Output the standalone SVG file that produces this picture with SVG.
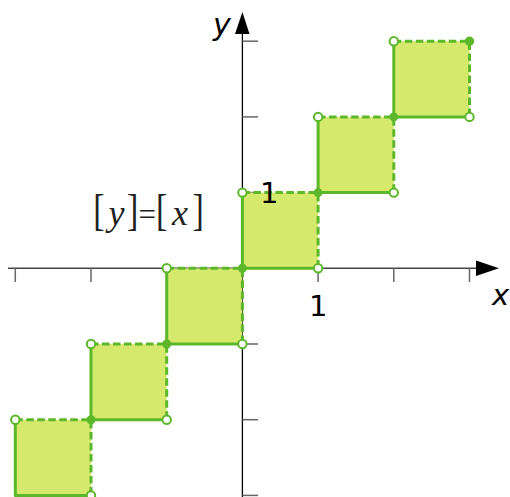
<svg xmlns="http://www.w3.org/2000/svg" width="510" height="497" viewBox="0 0 510 497">
<style>
.sq{fill:#d5e96c;stroke:none}
.solid{fill:none;stroke:#5cb82a;stroke-width:3;stroke-linecap:round;stroke-linejoin:round}
.dash{fill:none;stroke:#5cb82a;stroke-width:3;stroke-dasharray:7.5 3.5}
.open{fill:#fff;stroke:#5cb82a;stroke-width:2}
.full{fill:#5cb82a;stroke:none}
.tick{stroke:#666;stroke-width:1.5}
.lab{font-family:"DejaVu Sans",sans-serif;fill:#000}
.math{font-family:"Liberation Serif","Times New Roman",serif;fill:#222}
.br{font-size:34px}
</style>
<rect width="510" height="497" fill="#fff"/>
<g id="axes">
<line x1="8" y1="268.3" x2="478" y2="268.3" stroke="#444" stroke-width="1.5"/>
<polygon points="476,260.5 499,268.3 476,276" fill="#000"/>
<line x1="242.4" y1="497" x2="242.4" y2="32" stroke="#000" stroke-width="1.3"/>
<polygon points="235,34 242.4,12 249.5,34" fill="#000"/>
<g class="tick">
<line x1="15.3" y1="268.3" x2="15.3" y2="282"/>
<line x1="91" y1="268.3" x2="91" y2="282"/>
<line x1="166.7" y1="268.3" x2="166.7" y2="282"/>
<line x1="318.1" y1="268.3" x2="318.1" y2="282"/>
<line x1="393.8" y1="268.3" x2="393.8" y2="282"/>
<line x1="469.5" y1="268.3" x2="469.5" y2="282"/>
<line x1="242.4" y1="41.2" x2="258" y2="41.2"/>
<line x1="242.4" y1="116.9" x2="258" y2="116.9"/>
<line x1="242.4" y1="192.6" x2="258" y2="192.6"/>
<line x1="242.4" y1="344" x2="258" y2="344"/>
<line x1="242.4" y1="419.7" x2="258" y2="419.7"/>
<line x1="242.4" y1="495.4" x2="258" y2="495.4"/>
</g>
</g>
<g id="sq-3">
<rect class="sq" x="15.3" y="419.7" width="75.7" height="75.7"/>
<path class="solid" d="M15.3,419.7 L15.3,495.4 L91,495.4"/>
<path class="dash" d="M15.3,419.7 L91,419.7 L91,495.4"/>
</g>
<g id="sq-2">
<rect class="sq" x="91" y="344" width="75.7" height="75.7"/>
<path class="solid" d="M91,344 L91,419.7 L166.7,419.7"/>
<path class="dash" d="M91,344 L166.7,344 L166.7,419.7"/>
</g>
<g id="sq-1">
<rect class="sq" x="166.7" y="268.3" width="75.7" height="75.7"/>
<path class="solid" d="M166.7,268.3 L166.7,344 L242.4,344"/>
<path class="dash" d="M166.7,268.3 L242.4,268.3 L242.4,344"/>
</g>
<g id="sq0">
<rect class="sq" x="242.4" y="192.6" width="75.7" height="75.7"/>
<path class="solid" d="M242.4,192.6 L242.4,268.3 L318.1,268.3"/>
<path class="dash" d="M242.4,192.6 L318.1,192.6 L318.1,268.3"/>
</g>
<g id="sq1">
<rect class="sq" x="318.1" y="116.9" width="75.7" height="75.7"/>
<path class="solid" d="M318.1,116.9 L318.1,192.6 L393.8,192.6"/>
<path class="dash" d="M318.1,116.9 L393.8,116.9 L393.8,192.6"/>
</g>
<g id="sq2">
<rect class="sq" x="393.8" y="41.2" width="75.7" height="75.7"/>
<path class="solid" d="M393.8,41.2 L393.8,116.9 L469.5,116.9"/>
<path class="dash" d="M393.8,41.2 L469.5,41.2 L469.5,116.9"/>
</g>
<g id="dots">
<circle class="open" cx="15.3" cy="419.7" r="4.2"/>
<circle class="open" cx="91" cy="495.4" r="4.2"/>
<circle class="open" cx="91" cy="344" r="4.2"/>
<circle class="open" cx="166.7" cy="419.7" r="4.2"/>
<circle class="open" cx="166.7" cy="268.3" r="4.2"/>
<circle class="open" cx="242.4" cy="344" r="4.2"/>
<circle class="open" cx="242.4" cy="192.6" r="4.2"/>
<circle class="open" cx="318.1" cy="268.3" r="4.2"/>
<circle class="open" cx="318.1" cy="116.9" r="4.2"/>
<circle class="open" cx="393.8" cy="192.6" r="4.2"/>
<circle class="open" cx="393.8" cy="41.2" r="4.2"/>
<circle class="open" cx="469.5" cy="116.9" r="4.2"/>
<circle class="full" cx="91" cy="419.7" r="4.5"/>
<circle class="full" cx="166.7" cy="344" r="4.5"/>
<circle class="full" cx="242.4" cy="268.3" r="4.5"/>
<circle class="full" cx="318.1" cy="192.6" r="4.5"/>
<circle class="full" cx="393.8" cy="116.9" r="4.5"/>
<circle class="full" cx="469.5" cy="41.2" r="4.7"/>
</g>
<g id="labels">
<text class="lab" x="213" y="35" font-size="30" font-style="italic">y</text>
<text class="lab" x="492" y="305" font-size="29" font-style="italic">x</text>
<text class="lab" x="260" y="203" font-size="29">1</text>
<text class="lab" x="309" y="316" font-size="29">1</text>
<g id="formula" class="math">
<text class="br" transform="translate(93.2,225) scale(1,1.3)">[</text>
<text x="108.5" y="225" font-size="36" font-style="italic">y</text>
<text class="br" transform="translate(127,225) scale(1,1.3)">]</text>
<text x="138.4" y="225" font-size="31">=</text>
<text class="br" transform="translate(156,225) scale(1,1.3)">[</text>
<text x="172" y="225" font-size="36" font-style="italic">x</text>
<text class="br" transform="translate(192.5,225) scale(1,1.3)">]</text>
</g>
</g>
</svg>
